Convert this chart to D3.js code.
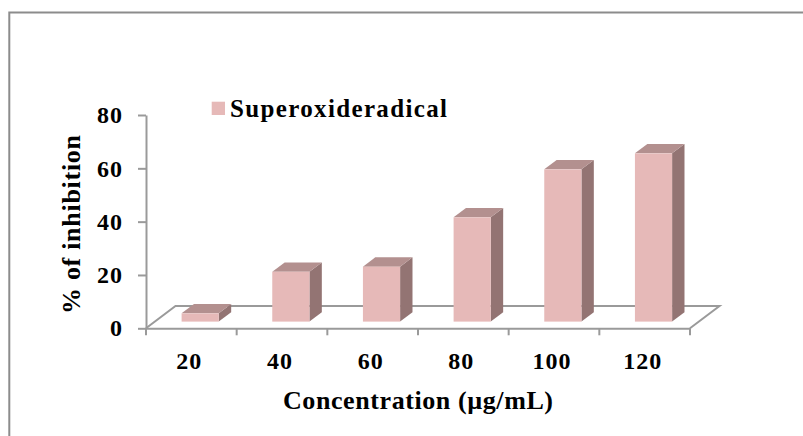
<!DOCTYPE html>
<html>
<head>
<meta charset="utf-8">
<script src="https://cdn.jsdelivr.net/npm/d3@7/dist/d3.min.js"></script>
<style>
  html, body { margin: 0; padding: 0; background: #fff; }
  svg { display: block; }
  text { font-family: "Liberation Serif", "Times New Roman", serif; font-weight: bold; fill: #000; }
</style>
</head>
<body>
<svg id="chart" width="803" height="436"></svg>
<script>
const categories = ["20", "40", "60", "80", "100", "120"];
const values = [3.1, 18.7, 20.6, 39.1, 57.1, 63.1];
const yTicks = [0, 20, 40, 60, 80];
const seriesName = "Superoxideradical";
const xTitle = "Concentration (µg/mL)";
const yTitle = "% of inhibition";

const svg = d3.select("#chart");

// outer border (extends beyond the picture)
svg.append("rect")
  .attr("x", 9.3).attr("y", 12.5).attr("width", 1000).attr("height", 1000)
  .attr("fill", "none").attr("stroke", "#8c8c8c").attr("stroke-width", 2);

const plotL = 146, plotR = 690, y0 = 328.3, yTop = 115;
const depth = [29.5, -22.3];          // floor depth vector
const frontF = 0.3, backF = 0.72;     // bar depth span (fraction of floor depth)

const x = d3.scaleBand().domain(categories).range([plotL, plotR]).padding(0);
const y = d3.scaleLinear().domain([0, 80]).range([y0, yTop]);

const gray = "#9a9a9a";

// floor (3D base)
const floorPts = [[plotL, y0], [plotL + depth[0], y0 + depth[1]], [plotR + depth[0], y0 + depth[1]], [plotR, y0]];
svg.append("path")
  .attr("d", d3.line()(floorPts))
  .attr("fill", "none").attr("stroke", gray).attr("stroke-width", 2)
  .attr("stroke-linejoin", "miter");

// y axis
const yAxis = d3.axisLeft(y).tickValues(yTicks).tickSize(8).tickPadding(15).tickSizeOuter(0);
const gy = svg.append("g").attr("transform", `translate(${plotL},0)`).call(yAxis);
gy.select(".domain").attr("stroke", gray).attr("stroke-width", 2);
gy.selectAll(".tick line").attr("stroke", gray).attr("stroke-width", 2);
gy.selectAll(".tick text")
  .attr("font-size", 24).attr("font-family", "Liberation Serif").attr("font-weight", "bold")
  .attr("fill", "#000").attr("letter-spacing", "1px");

// x axis (labels centred in bands, ticks at band boundaries)
const xAxis = d3.axisBottom(x).tickSize(0).tickPadding(0).tickSizeOuter(0);
const gx = svg.append("g").attr("transform", `translate(0,${y0})`).call(xAxis);
gx.select(".domain").attr("stroke", gray).attr("stroke-width", 2);
gx.selectAll(".tick text")
  .attr("font-size", 24).attr("font-family", "Liberation Serif").attr("font-weight", "bold")
  .attr("fill", "#000").attr("letter-spacing", "1px")
  .attr("dy", 0).attr("y", 41).attr("dx", -2);
const bounds = categories.map(c => x(c)).concat([x(categories[categories.length - 1]) + x.bandwidth()]);
gx.selectAll(".bound").data(bounds).enter().append("line")
  .attr("class", "bound")
  .attr("x1", d => d).attr("x2", d => d).attr("y1", 0).attr("y2", 7)
  .attr("stroke", gray).attr("stroke-width", 2);

// 3D bars
const bw = x.bandwidth() * 0.41;
const fdx = depth[0] * frontF, fdy = depth[1] * frontF;
const bdx = depth[0] * (backF - frontF), bdy = depth[1] * (backF - frontF);
const colFront = "#E6B9B8", colTop = "#B3908F", colSide = "#937473";

const bars = svg.append("g").selectAll("g").data(categories.map((c, i) => ({c, v: values[i]}))).enter().append("g");
bars.each(function(d) {
  const g = d3.select(this);
  const xl = x(d.c) + x.bandwidth() / 2 - bw / 2 + fdx;
  const xr = xl + bw;
  const yb = y(0) + fdy;
  const yt = y(d.v) + fdy;
  g.append("path").attr("d", d3.line()([[xr, yt], [xr + bdx, yt + bdy], [xr + bdx, yb + bdy], [xr, yb]]) + "Z")
    .attr("fill", colSide);
  g.append("path").attr("d", d3.line()([[xl, yt], [xl + bdx, yt + bdy], [xr + bdx, yt + bdy], [xr, yt]]) + "Z")
    .attr("fill", colTop);
  g.append("rect").attr("x", xl).attr("y", yt).attr("width", bw).attr("height", yb - yt)
    .attr("fill", colFront);
});

// fit a text element to a target length along its own direction
function fitText(sel, target) {
  const node = sel.node();
  const w = node.getComputedTextLength();
  if (w > 0 && Math.abs(w - target) > 0.5) {
    sel.attr("textLength", target).attr("lengthAdjust", "spacing");
  }
}

// legend
svg.append("rect").attr("x", 211.7).attr("y", 101.7).attr("width", 13.3).attr("height", 13.3).attr("fill", colFront);
const lt = svg.append("text").attr("x", 230).attr("y", 116.5)
  .attr("font-size", 25).text(seriesName);
fitText(lt, 217);

// axis titles
const xt = svg.append("text")
  .attr("x", 283).attr("y", 408.5)
  .attr("font-size", 26).text(xTitle);
fitText(xt, 270);

const yt = svg.append("text")
  .attr("transform", "translate(80,314) rotate(-90)")
  .attr("font-size", 26).text(yTitle);
fitText(yt, 179);
</script>
</body>
</html>
